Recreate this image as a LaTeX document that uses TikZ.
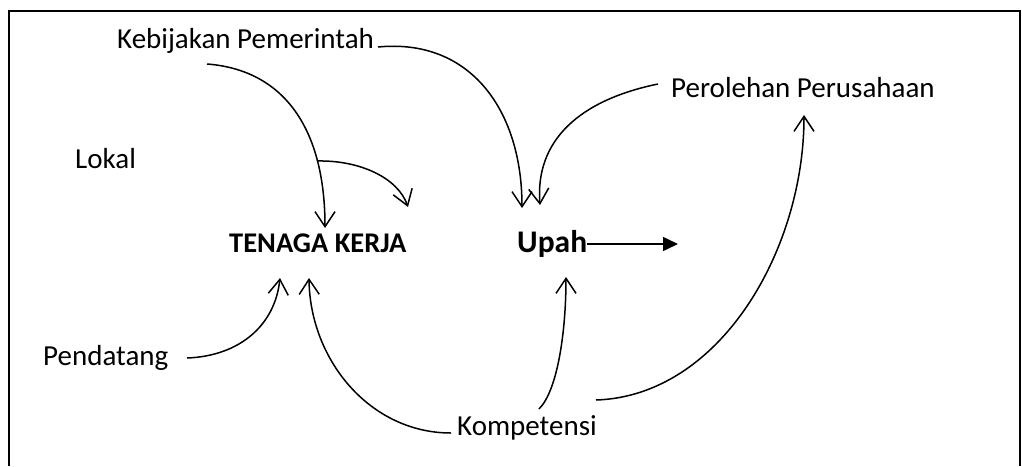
\documentclass[tikz,border=0pt]{standalone}
\usepackage{fontspec}
\setmainfont{Carlito}
\usetikzlibrary{arrows.meta}
\begin{document}
\begin{tikzpicture}[x=1pt,y=-1pt,
  lbl/.style={anchor=base west,inner sep=0pt,font=\fontsize{29}{32}\selectfont},
  blbl/.style={anchor=base west,inner sep=0pt,font=\fontsize{28.5}{32}\selectfont\bfseries},
  link/.style={line width=1.5pt,-{Straight Barb[length=15pt,width=20pt,line width=1.5pt]}},
  plain/.style={line width=1.5pt}]
\useasboundingbox (0,0) rectangle (1022,466);
\draw[line width=2pt] (9,466) -- (9,11) -- (1020,11) -- (1020,466);
% nodes
\node[lbl] (keb) at (117,48) {Kebijakan Pemerintah};
\node[lbl] (lok) at (75,168) {Lokal};
\node[lbl] (per) at (671,97) {Perolehan Perusahaan};
\node[blbl] (tk) at (229,252) {TENAGA KERJA};
\node[anchor=base west,inner sep=0pt,font=\fontsize{31.5}{34}\selectfont\bfseries] (up) at (517,252) {Upah};
\node[lbl] (pen) at (43,365) {Pendatang};
\node[lbl] (kom) at (457,435) {Kompetensi};
% coordinates for connector ends
\coordinate (kebS) at (207,64);
\coordinate (kebE) at (378,47);
\coordinate (tkN1) at (325,228);
\coordinate (tkN2) at (408,207);
\coordinate (lokS) at (317,161);
\coordinate (upN1) at (522,208);
\coordinate (upN2) at (540,205);
\coordinate (perW) at (658,84);
\coordinate (perS) at (804,115);
\coordinate (upE) at (587,244);
\coordinate (outE) at (678,244);
\coordinate (tkS1) at (280,278);
\coordinate (tkS2) at (309,278);
\coordinate (upS) at (566,277);
\coordinate (penE) at (187,358);
\coordinate (komW) at (451,433);
\coordinate (komN) at (539,409);
\coordinate (komE) at (596,400);
% connectors
\draw[link] (kebS) .. controls (285,70) and (325,130) .. (tkN1);
\draw[link] (lokS) .. controls (360,160) and (398,178) .. (tkN2);
\draw[link] (kebE) .. controls (470,38) and (522,110) .. (upN1);
\draw[link] (perW) .. controls (580,100) and (535,140) .. (upN2);
\draw[line width=1.5pt,-{Triangle[length=15pt,width=14pt]}] (upE) -- (outE);
\draw[link] (penE) .. controls (240,356) and (275,325) .. (tkS1);
\draw[link] (komW) .. controls (370,433) and (310,360) .. (tkS2);
\draw[link] (komN) .. controls (558,390) and (566,330) .. (upS);
\draw[link] (komE) .. controls (720,396) and (804,250) .. (perS);
\end{tikzpicture}
\end{document}
